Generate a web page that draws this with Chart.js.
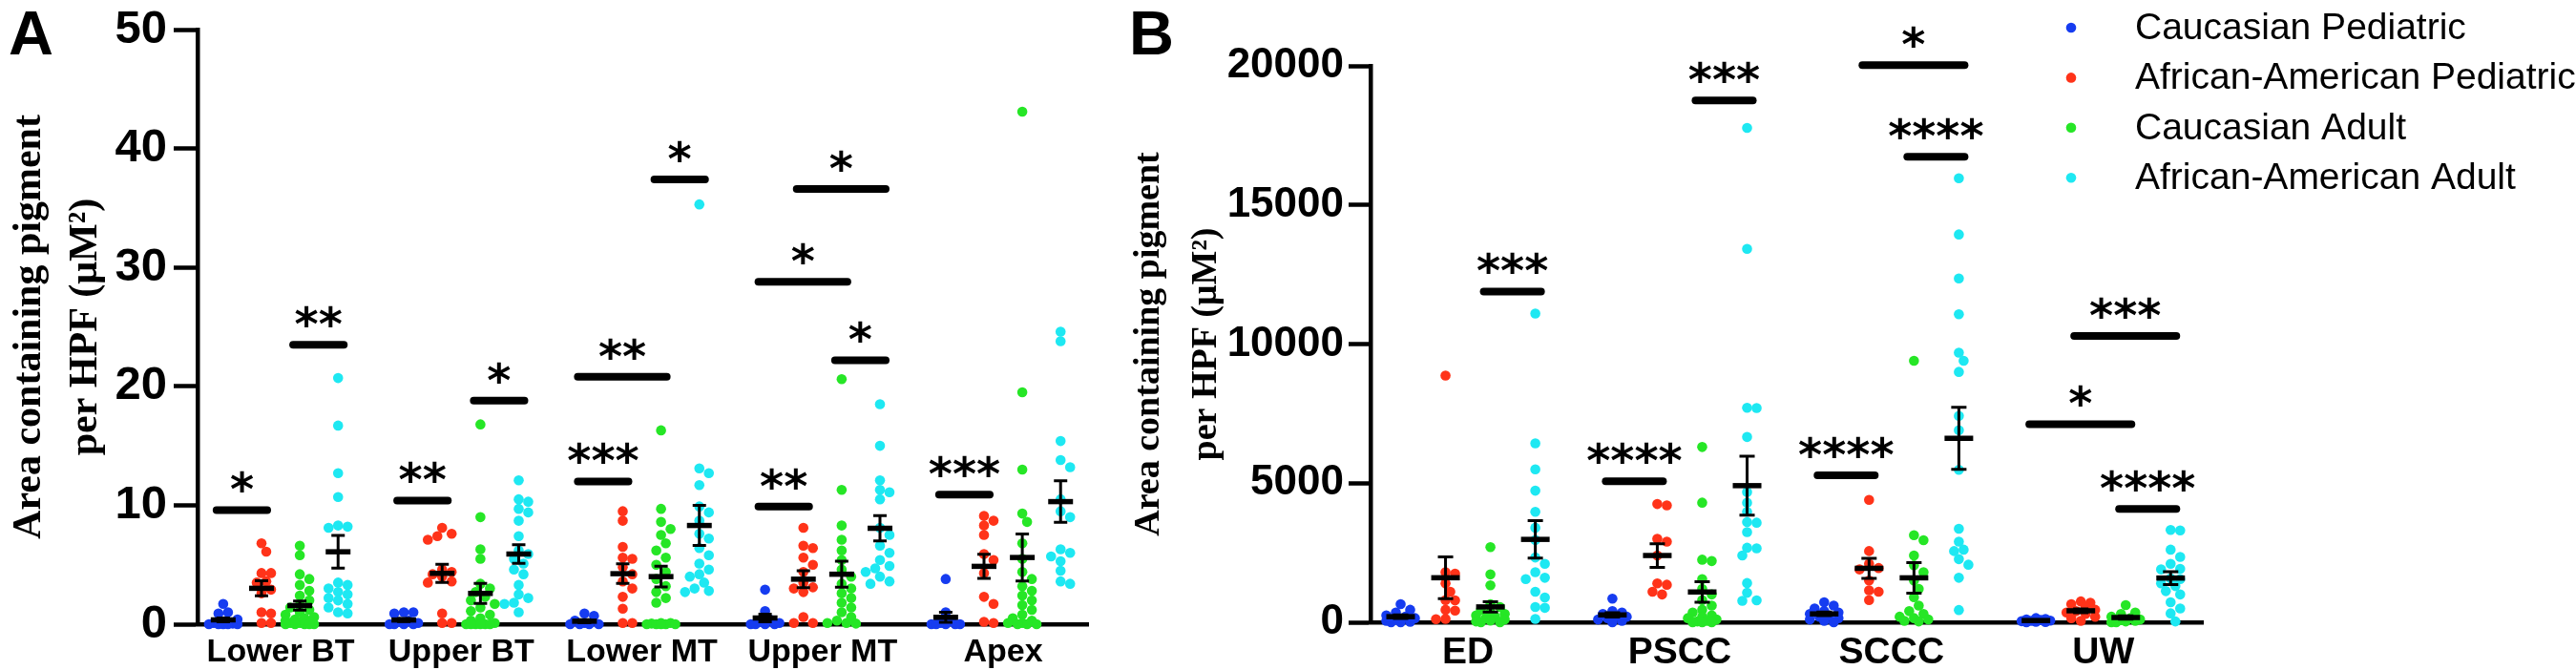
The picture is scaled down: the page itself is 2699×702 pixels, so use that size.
<!DOCTYPE html>
<html>
<head>
<meta charset="utf-8">
<script src="https://cdn.jsdelivr.net/npm/chart.js@4.4.1/dist/chart.umd.min.js"></script>
<style>
  html, body { margin: 0; padding: 0; background: #fff; }
  body { width: 2699px; height: 702px; position: relative; overflow: hidden; }
  #wrapA { position: absolute; left: 0; top: 0; width: 1172px; height: 702px; }
  #wrapB { position: absolute; left: 1172px; top: 0; width: 1527px; height: 702px; }
</style>
</head>
<body>
<div id="wrapA"><canvas id="chartA"></canvas></div>
<div id="wrapB"><canvas id="chartB"></canvas></div>
<script>
// categories / groups
const catsA = ["Lower BT", "Upper BT", "Lower MT", "Upper MT", "Apex"];
const catsB = ["ED", "PSCC", "SCCC", "UW"];
const groups = ["Caucasian Pediatric", "African-American Pediatric", "Caucasian Adult", "African-American Adult"];
const colors = ["#163cf0", "#ff3319", "#26e626", "#1ee8f2"];

// panel A values, one list per category
const aCaucPed = [
  [1.7, 1.0, 0.9, 0.4, 0.2, 0.1, 0.05, 0, 0, 0, 0, 0],
  [1.0, 1.0, 0.9, 0.3, 0.2, 0.1, 0, 0, 0, 0],
  [0.9, 0.7, 0.3, 0.1, 0, 0, 0, 0],
  [2.9, 1.1, 0.4, 0.2, 0.1, 0, 0, 0, 0],
  [3.8, 1.0, 0.3, 0.1, 0, 0, 0, 0, 0]
];
const aAfrPed = [
  [6.8, 6.1, 4.3, 4.3, 3.6, 3.5, 2.9, 2.6, 1.0, 0.9, 0.1, 0.1],
  [8.1, 7.6, 7.4, 7.1, 4.6, 4.4, 4.2, 4.0, 3.6, 3.5, 0.9, 0.1, 0.1],
  [9.5, 8.7, 6.5, 5.6, 5.5, 4.8, 4.2, 3.6, 3.0, 2.3, 1.3, 0.1, 0.1],
  [8.1, 6.6, 6.4, 5.6, 5.0, 4.4, 3.5, 3.1, 3.0, 2.7, 0.6, 0.1, 0.1],
  [9.1, 8.7, 8.3, 7.5, 5.9, 5.4, 4.3, 2.3, 1.7, 0.2, 0.1]
];
const aCaucAdult = [
  [6.6, 5.8, 4.2, 3.8, 3.3, 2.8, 2.4, 2.0, 1.6, 1.4, 1.2, 1.0, 0.8, 0.6, 0.5, 0.4, 0.3, 0.2, 0.1, 0.1, 0, 0, 0, 0, 0],
  [16.8, 9.0, 6.3, 5.5, 3.4, 3.0, 2.7, 2.3, 2.0, 1.7, 1.4, 1.1, 0.8, 0.5, 0.3, 0.1, 0, 0, 0, 0, 0, 0],
  [16.3, 9.7, 8.6, 8.0, 7.5, 6.8, 6.2, 5.6, 5.0, 4.4, 3.8, 3.2, 2.7, 2.2, 1.8, 0.1, 0.1, 0.05, 0, 0, 0, 0, 0],
  [20.6, 11.3, 8.3, 7.1, 6.2, 5.4, 4.6, 4.0, 3.4, 3.0, 2.6, 2.2, 1.8, 1.4, 1.0, 0.6, 0.3, 0.1, 0.1, 0.05],
  [43.1, 19.5, 13.0, 9.3, 8.6, 6.8, 5.5, 4.4, 3.8, 3.2, 2.8, 2.4, 2.0, 1.6, 1.2, 0.8, 0.5, 0.3, 0.1, 0.1, 0, 0, 0]
];
const aAfrAdult = [
  [20.7, 16.7, 12.7, 10.7, 8.3, 8.2, 8.1, 3.5, 3.3, 3.0, 2.7, 2.5, 2.2, 2.0, 1.7, 1.4, 1.0, 0.9],
  [12.1, 10.5, 10.3, 9.7, 9.4, 8.7, 7.4, 6.2, 5.9, 5.5, 5.1, 4.6, 4.2, 3.3, 2.5, 2.2, 1.8, 1.7, 1.0],
  [35.3, 13.1, 12.7, 11.7, 9.9, 9.4, 8.7, 7.6, 7.2, 6.4, 5.8, 5.1, 4.6, 4.2, 4.0, 3.5, 3.0, 2.8, 2.7],
  [18.5, 15.0, 12.1, 11.3, 11.1, 10.5, 8.1, 7.5, 6.6, 6.0, 5.4, 4.9, 4.7, 4.4, 4.0, 3.6, 3.4],
  [24.6, 23.8, 15.4, 13.8, 13.2, 10.5, 9.5, 9.0, 6.3, 6.0, 5.7, 5.3, 4.5, 3.6, 3.4]
];

// panel B values
const bCaucPed = [
  [650, 450, 350, 250, 200, 150, 100, 50, 20, 0, 0],
  [850, 400, 350, 300, 250, 200, 150, 100, 50, 0],
  [720, 600, 500, 400, 350, 300, 250, 200, 150, 100, 50, 0],
  [150, 120, 100, 80, 60, 50, 40, 20, 10, 0]
];
const bAfrPed = [
  [8870, 1800, 1750, 1400, 1100, 800, 790, 450, 420, 120, 110],
  [4250, 4200, 3000, 2900, 2400, 1400, 1350, 1100, 1000],
  [4400, 2560, 2100, 1950, 1900, 1500, 1150, 1100, 800],
  [750, 700, 650, 550, 450, 400, 350, 300, 200, 150, 50]
];
const bCaucAdult = [
  [2700, 1720, 1330, 650, 550, 450, 350, 300, 250, 200, 150, 100, 60, 30, 0, 0],
  [6300, 4300, 2250, 2200, 1550, 1200, 1000, 800, 600, 450, 350, 250, 200, 150, 100, 50, 30, 0, 0, 0],
  [9400, 3130, 2950, 2400, 2050, 1800, 1500, 1200, 900, 600, 400, 300, 200, 150, 100, 50, 30],
  [620, 350, 300, 200, 150, 100, 80, 50, 30, 0, 0]
];
const bAfrAdult = [
  [11100, 6430, 5500, 4730, 3970, 3400, 2960, 2330, 2100, 1800, 1600, 1550, 1100, 890, 550, 520, 120],
  [17770, 13420, 7710, 7700, 6660, 4680, 4300, 3970, 3600, 3580, 3240, 2680, 2660, 2400, 1410, 1060, 790, 770],
  [15960, 13940, 12360, 11070, 9690, 9400, 9000, 7420, 6900, 5480, 3360, 2900, 2610, 2560, 2270, 2070, 1600, 440],
  [3320, 3300, 2610, 2350, 2100, 1920, 1900, 1580, 1550, 1400, 1300, 1120, 1000, 720, 500, 320, 30]
];

// significance: [category, from group, to group, height, stars]
const sigA = [
  [0, 0, 1, 9.6, "*"], [0, 2, 3, 23.5, "**"],
  [1, 0, 1, 10.4, "**"], [1, 2, 3, 18.8, "*"],
  [2, 0, 1, 12.0, "***"], [2, 0, 2, 20.8, "**"], [2, 2, 3, 37.4, "*"],
  [3, 0, 1, 9.9, "**"], [3, 0, 2, 28.8, "*"], [3, 1, 3, 36.6, "*"], [3, 2, 3, 22.2, "*"],
  [4, 0, 1, 10.9, "***"]
];
const sigB = [
  [0, 2, 3, 11890, "***"],
  [1, 0, 1, 5070, "****"], [1, 2, 3, 18760, "***"],
  [2, 0, 1, 5280, "****"], [2, 1, 3, 20030, "*"], [2, 2, 3, 16735, "****"],
  [3, 0, 2, 7120, "*"], [3, 1, 3, 10290, "***"], [3, 2, 3, 4070, "****"]
];

const yTicksA = [0, 10, 20, 30, 40, 50];
const yTicksB = [0, 5000, 10000, 15000, 20000];

// group position inside a category (category units)
const gOff = [-0.318, -0.106, 0.106, 0.318];

// spread dots that would overlap (rough px per unit given so spacing is in pixels)
function swarm(vals, cx, ux, uy) {
  const placed = [];
  const out = [];
  const cand = [0, 5, -5, 10, -10, 15, -15];
  vals.forEach(v => {
    const py = v * uy;
    let best = 0, bestD = -1;
    for (const off of cand) {
      let d = Infinity;
      placed.forEach(p => { d = Math.min(d, Math.hypot(p[0] - off, p[1] - py)); });
      if (d >= 9.5) { best = off; break; }
      if (d > bestD) { bestD = d; best = off; }
    }
    placed.push([best, py]);
    out.push({ x: cx + best / ux, y: v });
  });
  return out;
}

function stats(v) {
  const n = v.length;
  const m = v.reduce((a, b) => a + b, 0) / n;
  const sd = Math.sqrt(v.reduce((a, b) => a + (b - m) * (b - m), 0) / (n - 1));
  return [m, sd / Math.sqrt(n)];
}

function makeDatasets(sets, ux, uy) {
  return sets.map((s, g) => ({
    label: groups[g],
    data: s.flatMap((vals, c) => swarm(vals, c + gOff[g], ux, uy)),
    backgroundColor: colors[g],
    borderWidth: 0,
    pointRadius: 5.3,
    clip: false
  }));
}

function overlay(sets, sig, o) {
  return {
    id: "overlay",
    afterDatasetsDraw(chart) {
      const ctx = chart.ctx;
      const xs = chart.scales.x, ys = chart.scales.y;
      ctx.save();
      ctx.strokeStyle = "#000";
      ctx.fillStyle = "#000";
      // mean and SEM
      sets.forEach((s, g) => s.forEach((vals, c) => {
        const [m, se] = stats(vals);
        const px = xs.getPixelForValue(c + gOff[g]);
        const yt = ys.getPixelForValue(m + se), yb = ys.getPixelForValue(Math.max(m - se, 0)), ym = ys.getPixelForValue(m);
        ctx.lineCap = "butt";
        ctx.lineWidth = 3;
        ctx.beginPath();
        ctx.moveTo(px, yt); ctx.lineTo(px, yb);
        ctx.moveTo(px - o.cap, yt); ctx.lineTo(px + o.cap, yt);
        ctx.moveTo(px - o.cap, yb); ctx.lineTo(px + o.cap, yb);
        ctx.stroke();
        ctx.lineWidth = 5.5;
        ctx.beginPath();
        ctx.moveTo(px - o.mean, ym); ctx.lineTo(px + o.mean, ym);
        ctx.stroke();
      }));
      // significance bars
      ctx.lineCap = "round";
      ctx.lineWidth = 8;
      ctx.font = "bold 48px 'DejaVu Sans'";
      ctx.textAlign = "center";
      ctx.textBaseline = "alphabetic";
      sig.forEach(([c, g1, g2, h, t]) => {
        const x1 = xs.getPixelForValue(c + gOff[g1]) - 7;
        const x2 = xs.getPixelForValue(c + gOff[g2]) + 6;
        const y = ys.getPixelForValue(h);
        ctx.beginPath();
        ctx.moveTo(x1, y); ctx.lineTo(x2, y);
        ctx.stroke();
        ctx.fillText(t, (x1 + x2) / 2, y - 5);
      });
      // panel letter
      ctx.textAlign = "left";
      ctx.font = "bold 65px 'Liberation Sans'";
      ctx.fillText(o.letter, o.lx, 57);
      // legend
      if (o.legend) {
        ctx.font = "39px 'Liberation Sans'";
        ctx.textBaseline = "middle";
        groups.forEach((gname, g) => {
          const y = 29 + g * 52.4;
          ctx.fillStyle = colors[g];
          ctx.beginPath();
          ctx.arc(o.legend[0], y, 5.3, 0, Math.PI * 2);
          ctx.fill();
          ctx.fillStyle = "#000";
          ctx.fillText(gname, o.legend[1], y + 1);
        });
      }
      ctx.restore();
    }
  };
}

function makeChart(id, cats, sets, yTicks, sig, o) {
  const xMin = -0.46, xMax = cats.length - 0.53;
  const ux = o.plotW / (xMax - xMin);
  const uy = o.plotH / yTicks[yTicks.length - 1];
  return new Chart(document.getElementById(id), {
    type: "scatter",
    data: { datasets: makeDatasets(sets, ux, uy) },
    options: {
      responsive: true,
      maintainAspectRatio: false,
      animation: false,
      events: [],
      layout: { padding: { left: 0, right: o.padRight, top: o.padTop, bottom: 0 } },
      plugins: { legend: { display: false }, tooltip: { enabled: false } },
      scales: {
        x: {
          type: "linear",
          min: xMin,
          max: xMax,
          afterFit: s => { s.height = o.xHeight; },
          afterBuildTicks: s => { s.ticks = cats.map((c, i) => ({ value: i })); },
          grid: { display: false, drawTicks: false },
          border: { display: true, color: "#000", width: 4.5 },
          ticks: {
            autoSkip: false, maxRotation: 0, padding: o.xPad, color: "#000",
            font: { family: "Liberation Sans", weight: "bold", size: o.xFont },
            callback: v => cats[v]
          }
        },
        y: {
          min: 0,
          max: yTicks[yTicks.length - 1],
          afterFit: s => { s.width = o.yWidth; },
          afterBuildTicks: s => { s.ticks = yTicks.map(v => ({ value: v })); },
          grid: { drawOnChartArea: false, drawTicks: true, tickLength: o.tickLen, tickWidth: 4.5, tickColor: "#000" },
          border: { display: true, color: "#000", width: 4.5 },
          ticks: {
            padding: o.yPad, color: "#000",
            font: { family: "Liberation Sans", weight: "bold", size: o.yFont, lineHeight: 0.95 },
            callback: v => String(v)
          },
          title: {
            display: true,
            text: ["Area containing pigment", "per HPF (\u03bcM\u00b2)"],
            color: "#000",
            padding: { top: 2, bottom: 0 },
            font: { family: "Liberation Serif", weight: "bold", size: o.tFont, lineHeight: o.tLine }
          }
        }
      }
    },
    plugins: [overlay(sets, sig, o)]
  });
}

makeChart("chartA", catsA, [aCaucPed, aAfrPed, aCaucAdult, aAfrAdult], yTicksA, sigA, {
  plotW: 935, plotH: 623, padRight: 32, padTop: 31, xHeight: 48, yWidth: 207,
  xPad: 9, xFont: 34, yPad: 7, yFont: 49, tickLen: 25, tFont: 42, tLine: 1.4,
  cap: 7, mean: 13, letter: "A", lx: 9
});

makeChart("chartB", catsB, [bCaucPed, bAfrPed, bCaucAdult, bAfrAdult], yTicksB, sigB, {
  plotW: 872, plotH: 583, padRight: 391, padTop: 69, xHeight: 50, yWidth: 264,
  xPad: 9, xFont: 39, yPad: 5, yFont: 44, tickLen: 23, tFont: 38, tLine: 1.58,
  cap: 8, mean: 15, letter: "B", lx: 11, legend: [998, 1065]
});
</script>
</body>
</html>
